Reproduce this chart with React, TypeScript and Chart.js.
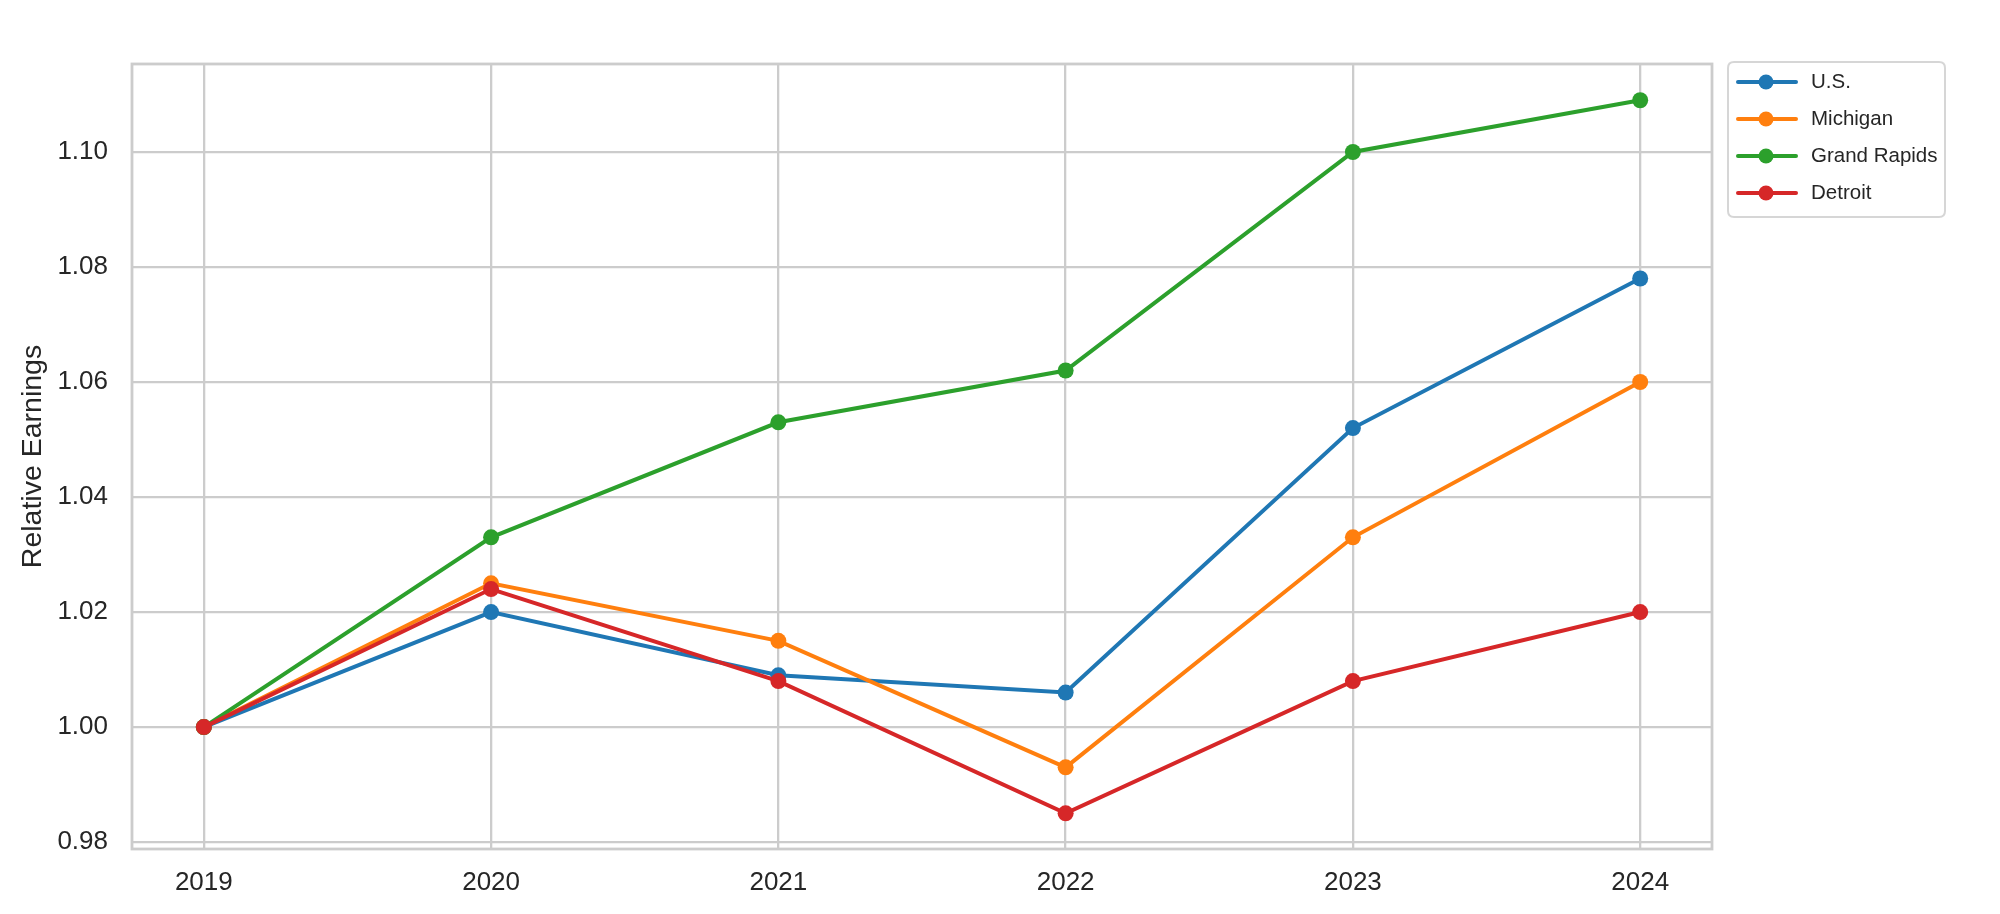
import React, { useEffect, useRef } from "react";
import { Chart, registerables } from "chart.js";

Chart.register(...registerables);

const YEARS = [2019, 2020, 2021, 2022, 2023, 2024];
const Y_TICKS = [0.98, 1.0, 1.02, 1.04, 1.06, 1.08, 1.1];
const SERIES_NAMES = ["U.S.", "Michigan", "Grand Rapids", "Detroit"];
const SERIES_COLORS = ["#1f77b4", "#ff7f0e", "#2ca02c", "#d62728"];
const US = [1.0, 1.02, 1.009, 1.006, 1.052, 1.078];
const MICHIGAN = [1.0, 1.025, 1.015, 0.993, 1.033, 1.06];
const GRAND_RAPIDS = [1.0, 1.033, 1.053, 1.062, 1.1, 1.109];
const DETROIT = [1.0, 1.024, 1.008, 0.985, 1.008, 1.02];
const SERIES_VALUES = [US, MICHIGAN, GRAND_RAPIDS, DETROIT];
const Y_LABEL = "Relative Earnings";

const FONT = "'Liberation Sans', Arial, sans-serif";
const TEXT = "#262626";
const GRID = "#cccccc";

const framePlugin = {
  id: "frame",
  beforeDatasetsDraw(chart: any) {
    const { ctx, chartArea } = chart;
    ctx.save();
    ctx.strokeStyle = GRID;
    ctx.lineWidth = 2.8;
    ctx.strokeRect(chartArea.left, chartArea.top, chartArea.right - chartArea.left, chartArea.bottom - chartArea.top);
    ctx.restore();
  },
};

const legendPlugin = {
  id: "customLegend",
  afterDraw(chart: any) {
    const { ctx } = chart;
    const bx = 1728, by = 62, bw = 217, bh = 155, r = 6;
    ctx.save();
    ctx.beginPath();
    ctx.moveTo(bx + r, by);
    ctx.lineTo(bx + bw - r, by);
    ctx.quadraticCurveTo(bx + bw, by, bx + bw, by + r);
    ctx.lineTo(bx + bw, by + bh - r);
    ctx.quadraticCurveTo(bx + bw, by + bh, bx + bw - r, by + bh);
    ctx.lineTo(bx + r, by + bh);
    ctx.quadraticCurveTo(bx, by + bh, bx, by + bh - r);
    ctx.lineTo(bx, by + r);
    ctx.quadraticCurveTo(bx, by, bx + r, by);
    ctx.closePath();
    ctx.fillStyle = "rgba(255,255,255,0.8)";
    ctx.fill();
    ctx.strokeStyle = "rgba(204,204,204,0.8)";
    ctx.lineWidth = 2;
    ctx.stroke();
    chart.data.datasets.forEach((ds: any, i: number) => {
      const y = 82 + i * 37;
      ctx.strokeStyle = ds.borderColor;
      ctx.lineWidth = 4;
      ctx.lineCap = "round";
      ctx.beginPath();
      ctx.moveTo(1738, y);
      ctx.lineTo(1796, y);
      ctx.stroke();
      ctx.fillStyle = ds.borderColor;
      ctx.beginPath();
      ctx.arc(1766, y, 7.5, 0, Math.PI * 2);
      ctx.fill();
      ctx.fillStyle = TEXT;
      ctx.font = `20.5px ${FONT}`;
      ctx.textBaseline = "middle";
      ctx.textAlign = "left";
      ctx.fillText(ds.label, 1811, y);
    });
    ctx.restore();
  },
};

export default function App() {
  const ref = useRef<HTMLCanvasElement | null>(null);
  useEffect(() => {
    document.body.style.margin = "0";
    if (!ref.current) return;
    const datasets = SERIES_NAMES.map((name, i) => ({
      label: name,
      data: YEARS.map((yr, j) => ({ x: yr, y: SERIES_VALUES[i][j] })),
      borderColor: SERIES_COLORS[i],
      backgroundColor: SERIES_COLORS[i],
      pointBackgroundColor: SERIES_COLORS[i],
      pointBorderColor: SERIES_COLORS[i],
      pointBorderWidth: 0,
      pointRadius: 8,
      borderWidth: 4,
      tension: 0,
      fill: false,
      order: SERIES_NAMES.length - i,
    }));
    const chart = new Chart(ref.current, {
      type: "line",
      data: { datasets },
      plugins: [framePlugin, legendPlugin],
      options: {
        responsive: false,
        animation: false,
        layout: { padding: { left: 0, top: 64, right: 288, bottom: 0 } },
        plugins: { legend: { display: false }, tooltip: { enabled: false } },
        scales: {
          x: {
            type: "linear",
            min: 2018.75,
            max: 2024.25,
            afterBuildTicks: (s: any) => {
              s.ticks = YEARS.map((v) => ({ value: v }));
            },
            afterFit: (s: any) => {
              s.height = 65;
            },
            grid: { color: GRID, lineWidth: 2.3, drawTicks: false },
            border: { display: false },
            ticks: {
              color: TEXT,
              font: { family: FONT, size: 26 },
              padding: 18,
              maxRotation: 0,
              callback: (v: any) => String(v),
            },
          },
          y: {
            type: "linear",
            min: 0.9788,
            max: 1.1153,
            afterBuildTicks: (s: any) => {
              s.ticks = Y_TICKS.map((v) => ({ value: v }));
            },
            afterFit: (s: any) => {
              s.width = 132;
            },
            grid: { color: GRID, lineWidth: 2.3, drawTicks: false },
            border: { display: false },
            ticks: {
              color: TEXT,
              font: { family: FONT, size: 26 },
              padding: 24,
              callback: (v: any) => Number(v).toFixed(2),
            },
            title: {
              display: true,
              text: Y_LABEL,
              color: TEXT,
              font: { family: FONT, size: 28.5 },
              padding: { top: 16, bottom: 0 },
            },
          },
        },
      },
    });
    return () => chart.destroy();
  }, []);
  return (
    <canvas
      ref={ref}
      width={2000}
      height={914}
      style={{ position: "absolute", left: 0, top: 0, width: 2000, height: 914 }}
    />
  );
}
